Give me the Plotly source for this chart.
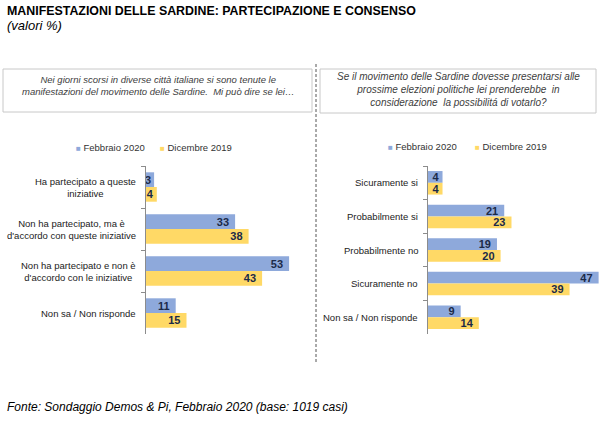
import plotly.graph_objects as go

# ---- data ----
left_categories = [
    "Ha partecipato a queste<br>iniziative",
    "Non ha partecipato, ma è<br>d'accordo con queste iniziative",
    "Non ha partecipato e non è<br>d'accordo con le iniziative",
    "Non sa / Non risponde",
]
left_feb2020 = [3, 33, 53, 11]
left_dic2019 = [4, 38, 43, 15]

right_categories = [
    "Sicuramente si",
    "Probabilmente si",
    "Probabilmente no",
    "Sicuramente no",
    "Non sa / Non risponde",
]
right_feb2020 = [4, 21, 19, 47, 9]
right_dic2019 = [4, 23, 20, 39, 14]

series_names = ["Febbraio 2020", "Dicembre 2019"]

title_text = "MANIFESTAZIONI DELLE SARDINE: PARTECIPAZIONE E CONSENSO"
subtitle_text = "(valori %)"
left_question = ("Nei giorni scorsi in diverse città italiane si sono tenute le<br>"
                 "manifestazioni del movimento delle Sardine.  Mi può dire se lei…")
right_question = ("Se il movimento delle Sardine dovesse presentarsi alle<br>"
                  "prossime elezioni politiche lei prenderebbe  in<br>"
                  "considerazione  la possibilitá di votarlo?")
source_text = "Fonte: Sondaggio Demos & Pi, Febbraio 2020 (base: 1019 casi)"

# ---- style ----
W, H = 600, 421
BLUE = "#8EA9DB"
YELLOW = "#FFD966"
COLORS = [BLUE, YELLOW]
LABEL_DARK = "#1B2A48"
FONT = "Arial, Liberation Sans, sans-serif"

def px_x(p):
    return p / W

def px_y(p):
    return 1 - p / H

def label_templates(vals):
    # a little right padding for labels that fit inside their bar
    return ["%{x}\u00a0" if v >= 5 else "%{x}" for v in vals]

fig = go.Figure()

bar_text_font = dict(family=FONT, size=11, color=LABEL_DARK, weight="bold")

for vals, name, color in zip([left_feb2020, left_dic2019], series_names, COLORS):
    fig.add_trace(go.Bar(
        y=left_categories, x=vals, name=name, orientation="h",
        marker=dict(color=color, line=dict(width=0)),
        texttemplate=label_templates(vals), textposition="inside", insidetextanchor="end",
        textangle=0, constraintext="none", cliponaxis=False,
        textfont=bar_text_font, showlegend=False,
        xaxis="x", yaxis="y", hoverinfo="skip",
    ))

for vals, name, color in zip([right_feb2020, right_dic2019], series_names, COLORS):
    fig.add_trace(go.Bar(
        y=right_categories, x=vals, name=name, orientation="h",
        marker=dict(color=color, line=dict(width=0)),
        texttemplate=label_templates(vals), textposition="inside", insidetextanchor="end",
        textangle=0, constraintext="none", cliponaxis=False,
        textfont=bar_text_font, showlegend=False,
        xaxis="x2", yaxis="y2", hoverinfo="skip",
    ))

ydom = [px_y(334), px_y(166)]

axis_common_x = dict(showgrid=False, zeroline=False, showticklabels=False,
                     showline=False, ticks="", fixedrange=True)
axis_common_y = dict(type="category", autorange="reversed", showgrid=False,
                     zeroline=False, showticklabels=False, showline=True,
                     linecolor="#8c8c8c", linewidth=1, ticks="outside",
                     tickson="boundaries", ticklen=4, tickcolor="#8c8c8c",
                     fixedrange=True)

fig.update_layout(
    width=W, height=H,
    margin=dict(l=0, r=0, t=0, b=0),
    paper_bgcolor="white", plot_bgcolor="white",
    font=dict(family=FONT, size=10, color="#222222"),
    barmode="group", bargap=0.3, bargroupgap=0,
    showlegend=False,
    xaxis=dict(domain=[px_x(146), px_x(298)], range=[0, 152 / 2.7], anchor="y", **axis_common_x),
    yaxis=dict(domain=ydom, anchor="x", **axis_common_y),
    xaxis2=dict(domain=[px_x(428), px_x(599)], range=[0, 171 / 3.63], anchor="y2", **axis_common_x),
    yaxis2=dict(domain=ydom, anchor="x2", **axis_common_y),
)

cat_font = dict(family=FONT, size=9.5, color="#222222")
annotations = []
for c in left_categories:
    annotations.append(dict(text=c, x=0, xref="x domain", y=c, yref="y",
                            xanchor="right", yanchor="middle", xshift=-8, align="center",
                            showarrow=False, font=cat_font))
for c in right_categories:
    annotations.append(dict(text=c, x=0, xref="x2 domain", y=c, yref="y2",
                            xanchor="right", yanchor="middle", xshift=-8, align="center",
                            showarrow=False, font=cat_font))

# legends (colored square + series name)
legend_font = dict(family=FONT, size=9.5, color="#333333")
legend_pos = [
    (px_x(74), px_x(158), px_y(147)),
    (px_x(386), px_x(473), px_y(146)),
]
for xa, xb, yy in legend_pos:
    for xx, name, color in zip([xa, xb], series_names, COLORS):
        annotations.append(dict(
            text=f"<span style='color:{color};font-size:8px'>■</span> {name}",
            x=xx, y=yy, xref="paper", yref="paper", xanchor="left", yanchor="middle",
            showarrow=False, font=legend_font))

annotations += [
    dict(text="<b>" + title_text + "</b>", x=px_x(5), y=px_y(11), xref="paper", yref="paper",
         xanchor="left", yanchor="middle", showarrow=False,
         font=dict(family=FONT, size=12.4, color="#000000")),
    dict(text="<i>" + subtitle_text + "</i>", x=px_x(5), y=px_y(26), xref="paper", yref="paper",
         xanchor="left", yanchor="middle", showarrow=False,
         font=dict(family=FONT, size=13, color="#000000")),
    dict(text="<i>" + left_question + "</i>", x=px_x(158), y=px_y(85), xref="paper", yref="paper",
         xanchor="center", yanchor="middle", showarrow=False, align="center",
         font=dict(family=FONT, size=9.5, color="#404040")),
    dict(text="<i>" + right_question + "</i>", x=px_x(458), y=px_y(89), xref="paper", yref="paper",
         xanchor="center", yanchor="middle", showarrow=False, align="center",
         font=dict(family=FONT, size=10, color="#404040")),
    dict(text="<i>" + source_text + "</i>", x=px_x(5), y=px_y(407), xref="paper", yref="paper",
         xanchor="left", yanchor="middle", showarrow=False,
         font=dict(family=FONT, size=12, color="#000000")),
]
fig.update_layout(annotations=annotations)

shapes = [
    dict(type="rect", xref="paper", yref="paper", x0=px_x(3), x1=px_x(312), y0=px_y(112), y1=px_y(69),
         line=dict(color="#c8c8c8", width=1), fillcolor="rgba(0,0,0,0)", layer="below"),
    dict(type="rect", xref="paper", yref="paper", x0=px_x(320), x1=px_x(596), y0=px_y(113), y1=px_y(69),
         line=dict(color="#c8c8c8", width=1), fillcolor="rgba(0,0,0,0)", layer="below"),
    dict(type="line", xref="paper", yref="paper", x0=px_x(316), x1=px_x(316), y0=px_y(64), y1=px_y(363),
         line=dict(color="#555555", width=1, dash="3px,2px")),
]
fig.update_layout(shapes=shapes)

fig.write_html("out.html", config={"displayModeBar": False},
               post_script="document.body.style.margin='0';")
